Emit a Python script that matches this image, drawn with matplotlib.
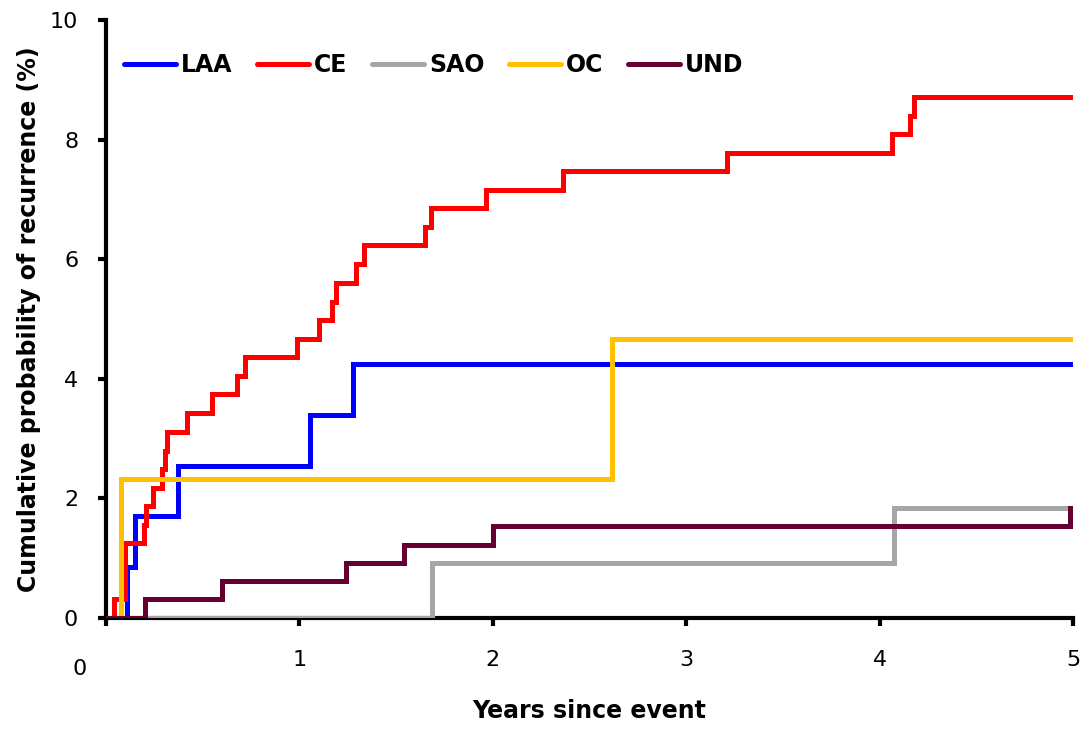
import matplotlib.pyplot as plt
from matplotlib.transforms import blended_transform_factory

# step times (years) and cumulative recurrence (%)
laa_t = [0, 0.107, 0.152, 0.374, 1.056, 1.275, 5.0]
laa_y = [0, 0.85, 1.70, 2.54, 3.39, 4.24, 4.24]

ce_t = [0, 0.040, 0.096, 0.197, 0.208, 0.245, 0.291, 0.304, 0.314, 0.421,
        0.547, 0.677, 0.719, 0.990, 1.100, 1.167, 1.190, 1.293, 1.334,
        1.649, 1.682, 1.965, 2.365, 3.210, 4.066, 4.157, 4.180, 5.0]
ce_y = [0, 0.31, 1.25, 1.56, 1.87, 2.18, 2.49, 2.80, 3.11, 3.42,
        3.74, 4.05, 4.36, 4.67, 4.98, 5.29, 5.60, 5.92, 6.23,
        6.54, 6.85, 7.16, 7.47, 7.78, 8.09, 8.40, 8.72, 8.72]

sao_t = [0, 1.684, 4.076, 5.0]
sao_y = [0, 0.92, 1.84, 1.84]

oc_t = [0, 0.078, 2.615, 5.0]
oc_y = [0, 2.33, 4.66, 4.66]

und_t = [0, 0.200, 0.598, 1.240, 1.540, 2.000, 4.985, 5.0]
und_y = [0, 0.31, 0.61, 0.92, 1.22, 1.53, 1.84, 1.84]

series = [
    ('LAA', laa_t, laa_y, '#0000FF'),
    ('CE', ce_t, ce_y, '#FF0000'),
    ('SAO', sao_t, sao_y, '#A6A6A6'),
    ('OC', oc_t, oc_y, '#FFC000'),
    ('UND', und_t, und_y, '#660033'),
]

x_ticks = [0, 1, 2, 3, 4, 5]
y_ticks = [0, 2, 4, 6, 8, 10]

fig = plt.figure(figsize=(10.89, 7.29), dpi=100)
ax = fig.add_axes([0.0973, 0.1523, 0.888, 0.8203])

for name, t, y, c in series:
    ax.step(t, y, where='post', color=c, lw=3.6, label=name,
            solid_joinstyle='miter', solid_capstyle='round', zorder=3)

ax.set_xlim(0, 5)
ax.set_ylim(0, 10)
ax.set_xticks(x_ticks)
ax.set_xticklabels(['' if v == 0 else str(v) for v in x_ticks])
ax.set_yticks(y_ticks)
ax.set_yticklabels([str(v) for v in y_ticks])

for s in ['top', 'right']:
    ax.spines[s].set_visible(False)
for s in ['left', 'bottom']:
    ax.spines[s].set_linewidth(3)
    ax.spines[s].set_zorder(2)

ax.tick_params(axis='x', direction='out', length=6, width=3, pad=17, labelsize=16)
ax.tick_params(axis='y', direction='out', length=6, width=3, pad=14, labelsize=16)

# the "0" on the x axis sits a little left of the origin in the original
tr = blended_transform_factory(ax.transAxes, ax.transAxes)
ax.text(-0.027, -0.068, '0', transform=tr, fontsize=16, ha='center', va='top')

ax.set_xlabel('Years since event', fontsize=17, fontweight='bold', labelpad=21)
ax.set_ylabel('Cumulative probability of recurrence (%)', fontsize=17,
              fontweight='bold', labelpad=6)

leg = ax.legend(loc='center left', bbox_to_anchor=(0.019, 0.925), ncol=5,
                frameon=False, prop={'weight': 'bold', 'size': 17},
                handlelength=2.2, handletextpad=0.2, columnspacing=1.05,
                borderpad=0, borderaxespad=0)
for h in leg.get_lines():
    h.set_solid_capstyle('round')

fig.savefig('out.png', dpi=100)
